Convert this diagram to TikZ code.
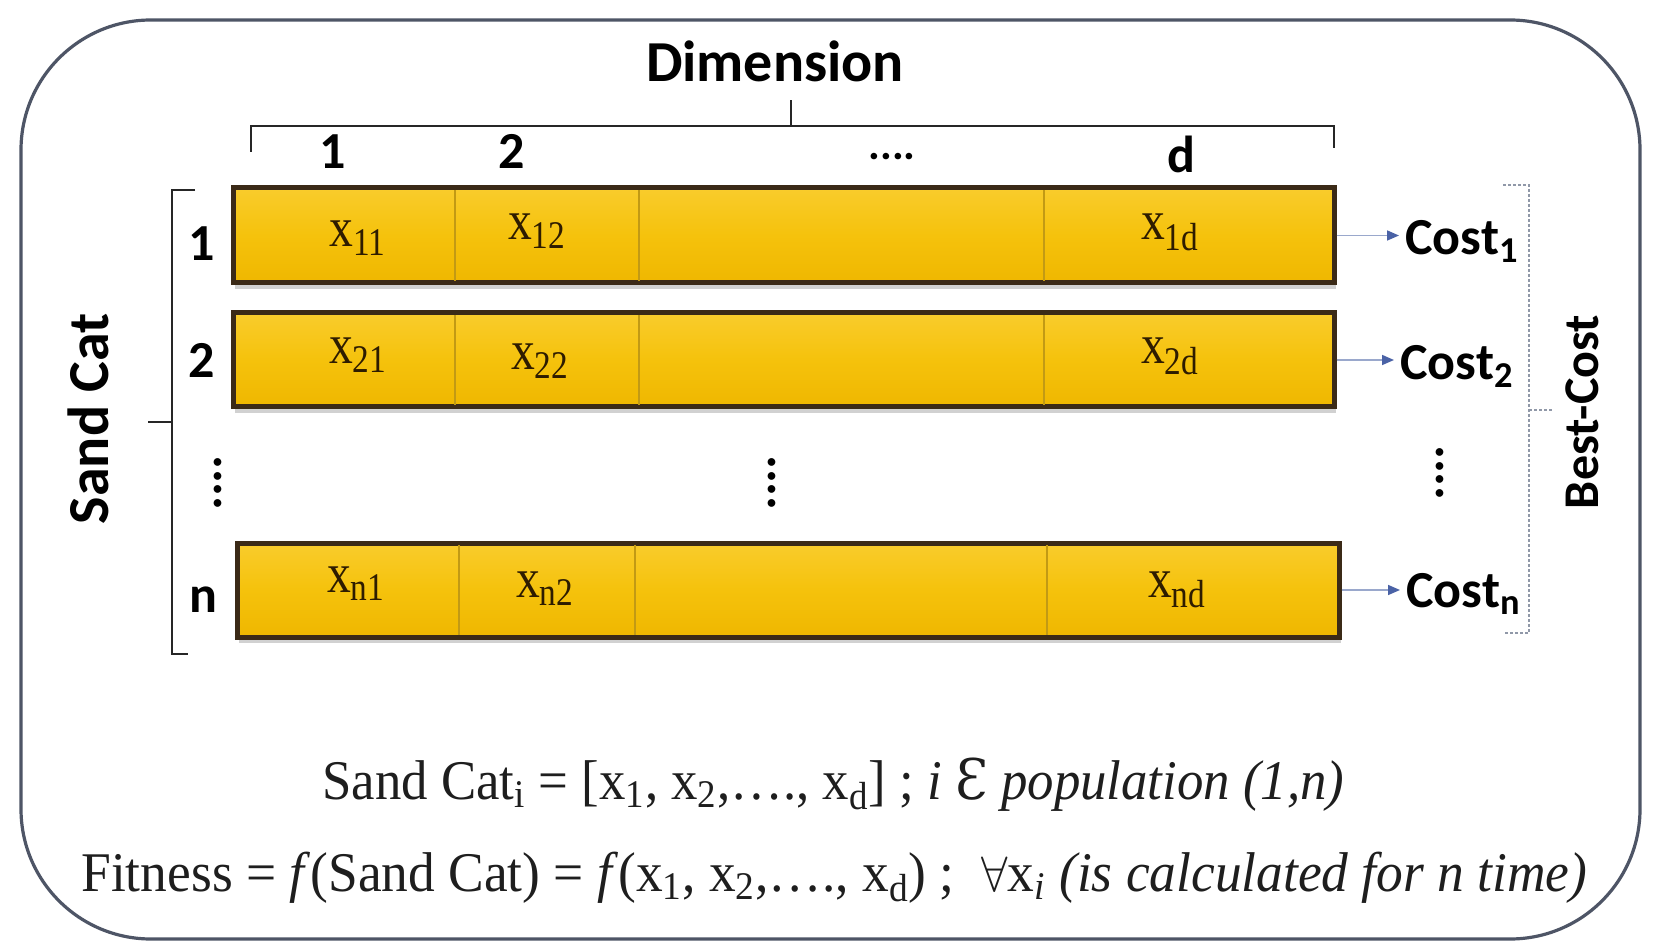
\documentclass[tikz,border=0pt]{standalone}
\usepackage{fontspec}
\setmainfont{Liberation Serif}
\newfontfamily\calib{Carlito}
\newfontfamily\dvserif{DejaVu Serif}
\usepackage{graphicx}
\usetikzlibrary{fit,arrows.meta,shadows}

\definecolor{goldtop}{HTML}{F9CC2C}
\definecolor{goldmid}{HTML}{F5C20C}
\definecolor{goldbot}{HTML}{EFB700}
\definecolor{rowedge}{HTML}{3B2A17}
\definecolor{divcol}{HTML}{C29A14}
\definecolor{celltxt}{HTML}{2E1C00}
\definecolor{outercol}{HTML}{4E5566}
\definecolor{arrline}{HTML}{9AA8CC}
\definecolor{arrhead}{HTML}{4A62A6}
\definecolor{dashcol}{HTML}{9098A8}
\definecolor{eqtxt}{HTML}{1E1E1E}

\tikzset{
  outerbox/.style={draw=outercol, line width=1.6pt, rounded corners=65pt},
  rowbox/.style={draw=rowedge, line width=2.5pt, top color=goldtop, bottom color=goldbot,
    middle color=goldmid, inner sep=0pt,
    drop shadow={shadow xshift=1pt, shadow yshift=-3pt, opacity=0.18, fill=black}},
  divider/.style={draw=divcol, line width=0.8pt},
  celltext/.style={text=celltxt, font=\fontsize{28}{32}\selectfont, inner sep=0pt},
  boldlbl/.style={font=\calib\bfseries\fontsize{26}{30}\selectfont, inner sep=0pt},
  biglbl/.style={font=\calib\bfseries\fontsize{29}{34}\selectfont, inner sep=0pt},
  costlbl/.style={font=\calib\bfseries\fontsize{26}{30}\selectfont, inner sep=0pt},
  bracketline/.style={draw=black!85, line width=1.3pt},
  dashbracket/.style={draw=dashcol, line width=0.6pt, dash pattern=on 1.5pt off 1pt},
  costarr/.style={draw=arrline, line width=0.8pt, -{Triangle[length=6pt,width=5pt,color=arrhead]}, shorten >=3pt},
  eqline/.style={text=eqtxt, font=\fontsize{28}{32}\selectfont, inner sep=0pt},
}

\newcommand{\cellx}[1]{\scalebox{0.85}[1]{x\textsubscript{#1}}}

\begin{document}
\begin{tikzpicture}[x=0.5pt,y=-0.5pt]
\useasboundingbox (0,0) rectangle (1653,951);
\fill[white] (0,0) rectangle (1653,951);

% outer frame
\draw[outerbox] (21,20) rectangle (1640,939);

% title and top brace
\node[biglbl, anchor=base] (dim) at (775,82) {Dimension};
\draw[bracketline] (251,152) -- (251,126) -- (1334,126) -- (1334,148);
\draw[bracketline] (791,126) -- (791,100);

% column headers
\node[boldlbl, anchor=base] (h1) at (333,169) {1};
\node[boldlbl, anchor=base] (h2) at (512,169) {2};
\node[boldlbl, anchor=base, font=\calib\bfseries\fontsize{22}{26}\selectfont] (hd) at (892,160) {....};
\node[boldlbl, anchor=base] (hdd) at (1181,173) {d};

% rows
\node[rowbox, fit={(233,188)(1334,283)}] (r1) {};
\node[rowbox, fit={(233,313)(1334,407)}] (r2) {};
\node[rowbox, fit={(237,543)(1339,637)}] (rn) {};

% dividers
\draw[divider] (455,190) -- (455,281);
\draw[divider] (639,190) -- (639,281);
\draw[divider] (1044,190) -- (1044,281);
\draw[divider] (455,315) -- (455,405);
\draw[divider] (639,315) -- (639,405);
\draw[divider] (1044,315) -- (1044,405);
\draw[divider] (459,545) -- (459,635);
\draw[divider] (635,545) -- (635,635);
\draw[divider] (1047,545) -- (1047,635);

% cell texts
\node[celltext, anchor=base] (x11) at (358,247) {\cellx{11}};
\node[celltext, anchor=base] (x12) at (537,240) {\cellx{12}};
\node[celltext, anchor=base] (x1d) at (1170,240) {\cellx{1d}};
\node[celltext, anchor=base] (x21) at (358,364) {\cellx{21}};
\node[celltext, anchor=base] (x22) at (540,370) {\cellx{22}};
\node[celltext, anchor=base] (x2d) at (1170,364) {\cellx{2d}};
\node[celltext, anchor=base] (xn1) at (356,592) {\cellx{n1}};
\node[celltext, anchor=base] (xn2) at (545,597) {\cellx{n2}};
\node[celltext, anchor=base] (xnd) at (1177,597) {\cellx{nd}};

% row labels
\node[boldlbl, anchor=base] (l1) at (202,261) {1};
\node[boldlbl, anchor=base] (l2) at (202,378) {2};
\node[boldlbl, anchor=base] (ln) at (203,612) {n};

% vertical dots
\node[boldlbl, rotate=-90] (d1) at (218,483) {....};
\node[boldlbl, rotate=-90] (d2) at (772,483) {....};
\node[boldlbl, rotate=-90] (d3) at (1440,473) {....};

% left bracket and label
\draw[bracketline] (195,190) -- (172,190) -- (172,654) -- (188,654);
\draw[bracketline] (172,422) -- (148,422);
\node[biglbl, rotate=90] (sc) at (88,419) {Sand Cat};

% costs
\node[costlbl, anchor=base west] (c1) at (1405,255) {Cost\textsubscript{1}};
\node[costlbl, anchor=base west] (c2) at (1400,380) {Cost\textsubscript{2}};
\node[costlbl, anchor=base west] (cn) at (1406,607) {Cost\textsubscript{n}};
\draw[costarr] (r1.east) -- (r1.east -| c1.west);
\draw[costarr] (r2.east) -- (r2.east -| c2.west);
\draw[costarr] (rn.east) -- (rn.east -| cn.west);

% right dashed bracket and label
\draw[dashbracket] (1503,185) -- (1529,185) -- (1529,633) -- (1503,633);
\draw[dashbracket] (1529,410) -- (1552,410);
\node[font=\calib\bfseries\fontsize{25}{30}\selectfont, inner sep=0pt, rotate=90] (bc) at (1582,412) {Best-Cost};

% equations
\node[eqline, anchor=base west] (eq1) at (322,799)
  {\resizebox{511pt}{\height}{Sand Cat\textsubscript{i} = [x\textsubscript{1}, x\textsubscript{2},…., x\textsubscript{d}] ; \textit{i} {\dvserif Ɛ} \textit{population (1,n)}}};
\node[eqline, anchor=base west] (eq2) at (81,891)
  {\resizebox{753pt}{\height}{Fitness = \textit{f}(Sand Cat) = \textit{f}(x\textsubscript{1}, x\textsubscript{2},…., x\textsubscript{d}) ;\ \ $\forall$x\textsubscript{\textit{i}} \textit{(is calculated for n time)}}};
\end{tikzpicture}
\end{document}
